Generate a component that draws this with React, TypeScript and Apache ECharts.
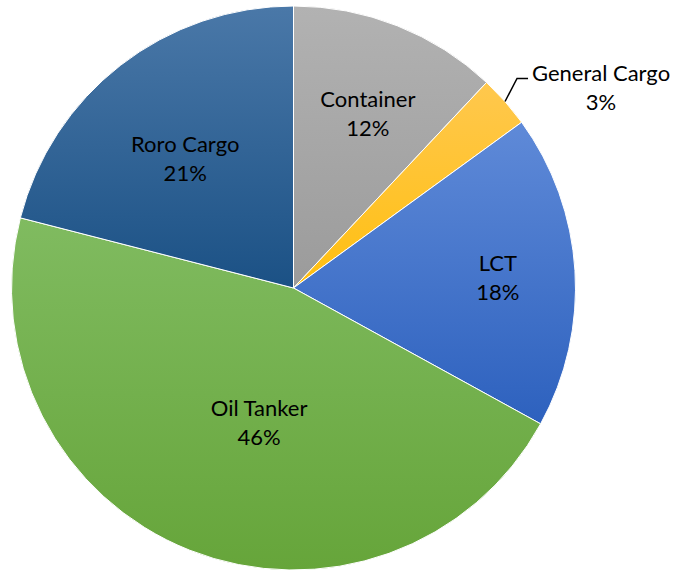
import React, { useEffect, useRef } from "react";
import * as echarts from "echarts";

const categories = ["Container", "General Cargo", "LCT", "Oil Tanker", "Roro Cargo"];
const values = [12, 3, 18, 46, 21];
const topColors = ["#b2b2b2", "#ffc84e", "#5f8ad8", "#80bb60", "#4a78a8"];
const bottomColors = ["#9b9b9b", "#ffbf10", "#2d61be", "#66a53a", "#1b5185"];

// label placement: angle (deg clockwise from top) and fraction of radius
const labelAngles = [23, 48.6, 86.9, 194.4, 320.2];
const labelFractions = [0.675, 1, 0.726, 0.49, 0.6];

const CX = 293.5;
const CY = 288;
const R = 282;

export default function App() {
  const ref = useRef<HTMLDivElement>(null);
  useEffect(() => {
    document.body.style.margin = "0";
    const chart = echarts.init(ref.current!, null, { renderer: "svg" });
    const data = categories.map((name, i) => ({
      name,
      value: values[i],
      itemStyle: {
        color: new echarts.graphic.LinearGradient(0, 0, 0, 1, [
          { offset: 0, color: topColors[i] },
          { offset: 1, color: bottomColors[i] },
        ]),
      },
    }));
    // leader line for the small slice, from its arc midpoint
    const total = values.reduce((s, v) => s + v, 0);
    const before = values.slice(0, 1).reduce((s, v) => s + v, 0);
    const mid = ((before + values[1] / 2) / total) * 2 * Math.PI;
    const ex = CX + R * Math.sin(mid);
    const ey = CY - R * Math.cos(mid);
    const p1 = [ex + 12, ey - 23];
    const p2 = [p1[0] + 11, p1[1]];

    chart.setOption({
      animation: false,
      backgroundColor: "#fff",
      graphic: [
        {
          type: "polyline",
          z: 100,
          shape: { points: [[ex, ey], p1, p2] },
          style: { stroke: "#000", lineWidth: 1.5, fill: null },
        },
      ],
      series: [
        {
          type: "pie",
          center: [CX, CY],
          radius: R,
          startAngle: 90,
          clockwise: true,
          data,
          itemStyle: { borderColor: "#fff", borderWidth: 1 },
          label: {
            show: true,
            position: "inside",
            formatter: "{b}\n{d}%",
            color: "#000",
            fontFamily: "Lato",
            fontSize: 22,
            lineHeight: 29,
            align: "center",
          },
          labelLine: { show: false },
          labelLayout: (params: any) => {
            const i = params.dataIndex;
            if (i === 1) {
              return {
                x: p2[0] + 73,
                y: p2[1] + 8,
                align: "center",
                verticalAlign: "middle",
              };
            }
            const a = (labelAngles[i] * Math.PI) / 180;
            const f = labelFractions[i] * R;
            return {
              x: CX + f * Math.sin(a),
              y: CY - f * Math.cos(a),
              align: "center",
              verticalAlign: "middle",
            };
          },
        },
      ],
    });
    return () => chart.dispose();
  }, []);
  return <div ref={ref} style={{ width: 677, height: 571 }} />;
}
